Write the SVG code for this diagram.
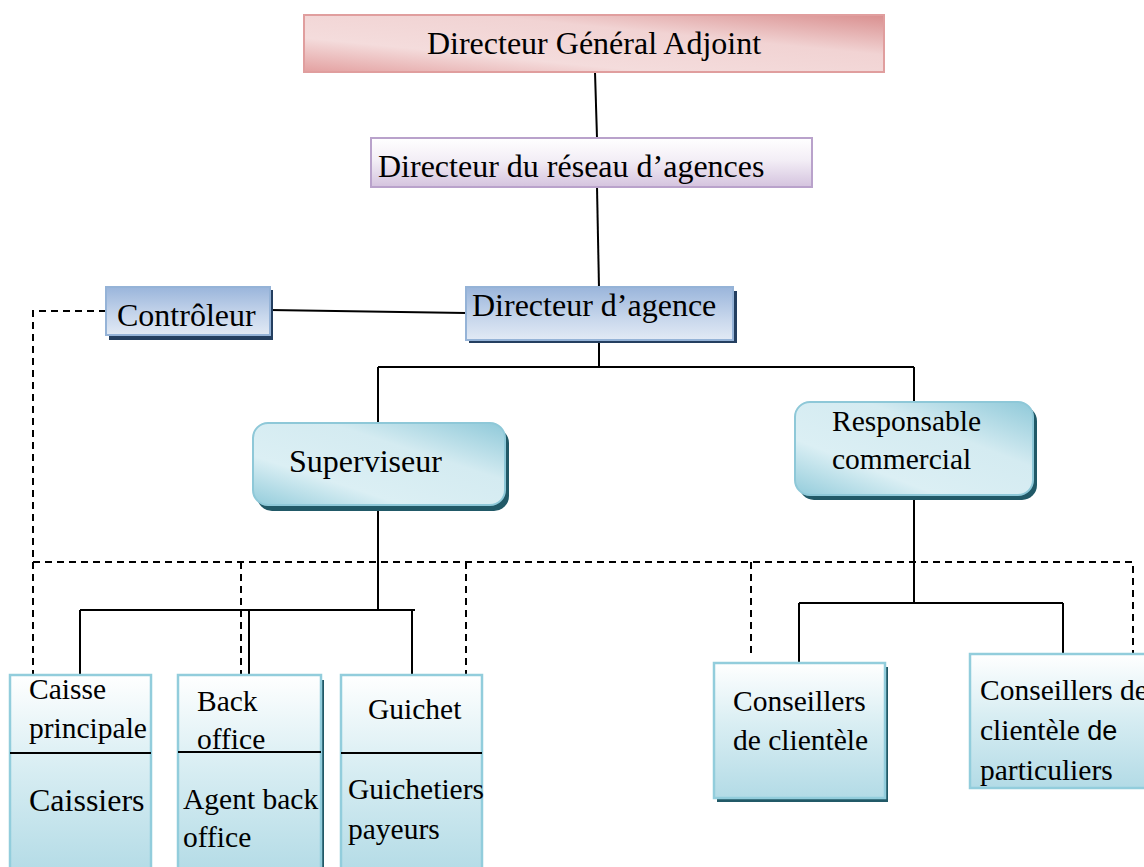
<svg xmlns="http://www.w3.org/2000/svg" width="1144" height="867" viewBox="0 0 1144 867">
  <defs>
    <linearGradient id="gPink" x1="0" y1="1" x2="1" y2="0">
      <stop offset="0" stop-color="#e3a0a0"/>
      <stop offset="0.3" stop-color="#f4dcdc"/>
      <stop offset="0.65" stop-color="#f1d3d3"/>
      <stop offset="1" stop-color="#d98f8f"/>
    </linearGradient>
    <linearGradient id="gLav" x1="0" y1="0" x2="0" y2="1">
      <stop offset="0" stop-color="#ffffff"/>
      <stop offset="0.45" stop-color="#f3eef6"/>
      <stop offset="1" stop-color="#d4c3de"/>
    </linearGradient>
    <linearGradient id="gBlue" x1="0" y1="0" x2="0" y2="1">
      <stop offset="0" stop-color="#9ab5db"/>
      <stop offset="0.6" stop-color="#c8d7ec"/>
      <stop offset="1" stop-color="#e2eaf5"/>
    </linearGradient>
    <linearGradient id="gTeal" x1="0" y1="1" x2="1" y2="0">
      <stop offset="0" stop-color="#93ccdb"/>
      <stop offset="0.3" stop-color="#dbeff4"/>
      <stop offset="0.65" stop-color="#d4ebf1"/>
      <stop offset="1" stop-color="#8fc9d9"/>
    </linearGradient>
    <linearGradient id="gCol" x1="0" y1="0" x2="0" y2="1">
      <stop offset="0" stop-color="#ffffff"/>
      <stop offset="0.45" stop-color="#d9eef3"/>
      <stop offset="1" stop-color="#b3dbe6"/>
    </linearGradient>
    <style>
      text { font-family: "Liberation Serif", "Times New Roman", serif; fill: #000; }
      .t32 { font-size: 32px; }
      .t29 { font-size: 29.5px; }
      .sans { font-family: "Liberation Sans", Arial, sans-serif; font-size: 27px; }
      .solid { stroke: #000; stroke-width: 2; fill: none; }
      .dash { stroke: #000; stroke-width: 2; fill: none; stroke-dasharray: 7 5; }
      .col { fill: url(#gCol); stroke: #92cddc; stroke-width: 2.5; }
      .shBlue { fill: #243f60; }
      .shTeal { fill: #215967; }
      .blue { fill: url(#gBlue); stroke: #95b3d7; stroke-width: 2; }
      .teal { fill: url(#gTeal); stroke: #8ec8d8; stroke-width: 2; }
    </style>
  </defs>

  <!-- connectors -->
  <g id="connectors">
    <!-- solid hierarchy lines -->
    <path class="solid" d="M595 72 L597 138"/>
    <path class="solid" d="M597 187 L599 288"/>
    <path class="solid" d="M270 310 L466 313"/>
    <path class="solid" d="M599 343 L599 367 M378 367 L914 367 M378 367 L378 424 M914 367 L914 402"/>
    <path class="solid" d="M378 507 L378 610 M80 610 L415 610 M80 610 L80 675 M249 610 L249 675 M412 610 L412 675"/>
    <path class="solid" d="M914 496 L914 603 M799 603 L1063 603 M799 603 L799 663 M1063 603 L1063 655"/>
    <!-- dotted control lines -->
    <path class="dash" d="M106 311 L33 311 L33 675"/>
    <path class="dash" d="M33 562 L1133 562 L1133 655"/>
    <path class="dash" d="M241 562 L241 675 M466 562 L466 675 M751 562 L751 655"/>
  </g>

  <g id="dga">
    <rect x="304" y="15" width="580" height="57" fill="url(#gPink)" stroke="#e09e9e" stroke-width="2"/>
    <text class="t32" x="594" y="54" text-anchor="middle">Directeur Général Adjoint</text>
  </g>

  <g id="reseau">
    <rect x="371" y="138" width="441" height="49" fill="url(#gLav)" stroke="#b9a2cb" stroke-width="2"/>
    <text class="t32" x="378" y="177">Directeur du réseau d’agences</text>
  </g>

  <g id="controleur">
    <rect class="shBlue" x="109" y="290" width="164" height="50"/>
    <rect class="blue" x="106" y="287" width="164" height="48"/>
    <text class="t32" x="117" y="326">Contrôleur</text>
  </g>

  <g id="directeur-agence">
    <rect class="shBlue" x="469" y="291" width="268" height="52"/>
    <rect class="blue" x="466" y="287" width="267" height="53"/>
    <text class="t32" x="472" y="316">Directeur d’agence</text>
  </g>

  <g id="superviseur">
    <rect class="shTeal" x="257" y="428" width="252" height="83" rx="15"/>
    <rect class="teal" x="253" y="423" width="252" height="82" rx="15"/>
    <text class="t32" x="289" y="472">Superviseur</text>
  </g>

  <g id="responsable">
    <rect class="shTeal" x="799" y="406" width="238" height="94" rx="15"/>
    <rect class="teal" x="795" y="402" width="238" height="93" rx="15"/>
    <text class="t29" x="832" y="431">Responsable</text>
    <text class="t29" x="832" y="469">commercial</text>
  </g>

  <g id="caisse">
    <rect class="col" x="10" y="675" width="141" height="200"/>
    <line class="solid" x1="10" y1="753" x2="151" y2="753"/>
    <text class="t29" x="29" y="699">Caisse</text>
    <text class="t29" x="29" y="738">principale</text>
    <text class="t32" x="29" y="811">Caissiers</text>
  </g>

  <g id="back-office">
    <rect fill="#215967" x="321" y="680" width="3" height="195"/>
    <rect class="col" x="178" y="675" width="143" height="200"/>
    <line class="solid" x1="178" y1="752" x2="321" y2="752"/>
    <text class="t29" x="197" y="711">Back</text>
    <text class="t29" x="197" y="749">office</text>
    <text class="t29" x="183" y="809">Agent back</text>
    <text class="t29" x="183" y="847">office</text>
  </g>

  <g id="guichet">
    <rect class="col" x="341" y="675" width="141" height="200"/>
    <line class="solid" x1="341" y1="753" x2="482" y2="753"/>
    <text class="t29" x="368" y="719">Guichet</text>
    <text class="t29" x="348" y="799">Guichetiers</text>
    <text class="t29" x="348" y="839">payeurs</text>
  </g>

  <g id="conseillers">
    <rect fill="#215967" x="717" y="667" width="171" height="135"/>
    <rect class="col" x="714" y="663" width="171" height="135"/>
    <text class="t29" x="733" y="711">Conseillers</text>
    <text class="t29" x="733" y="750">de clientèle</text>
  </g>

  <g id="conseillers-particuliers">
    <rect class="col" x="970" y="654" width="185" height="134"/>
    <text class="t29" x="980" y="700">Conseillers de</text>
    <text class="t29" x="980" y="740">clientèle <tspan class="sans">de</tspan></text>
    <text class="t29" x="980" y="780">particuliers</text>
  </g>
</svg>
